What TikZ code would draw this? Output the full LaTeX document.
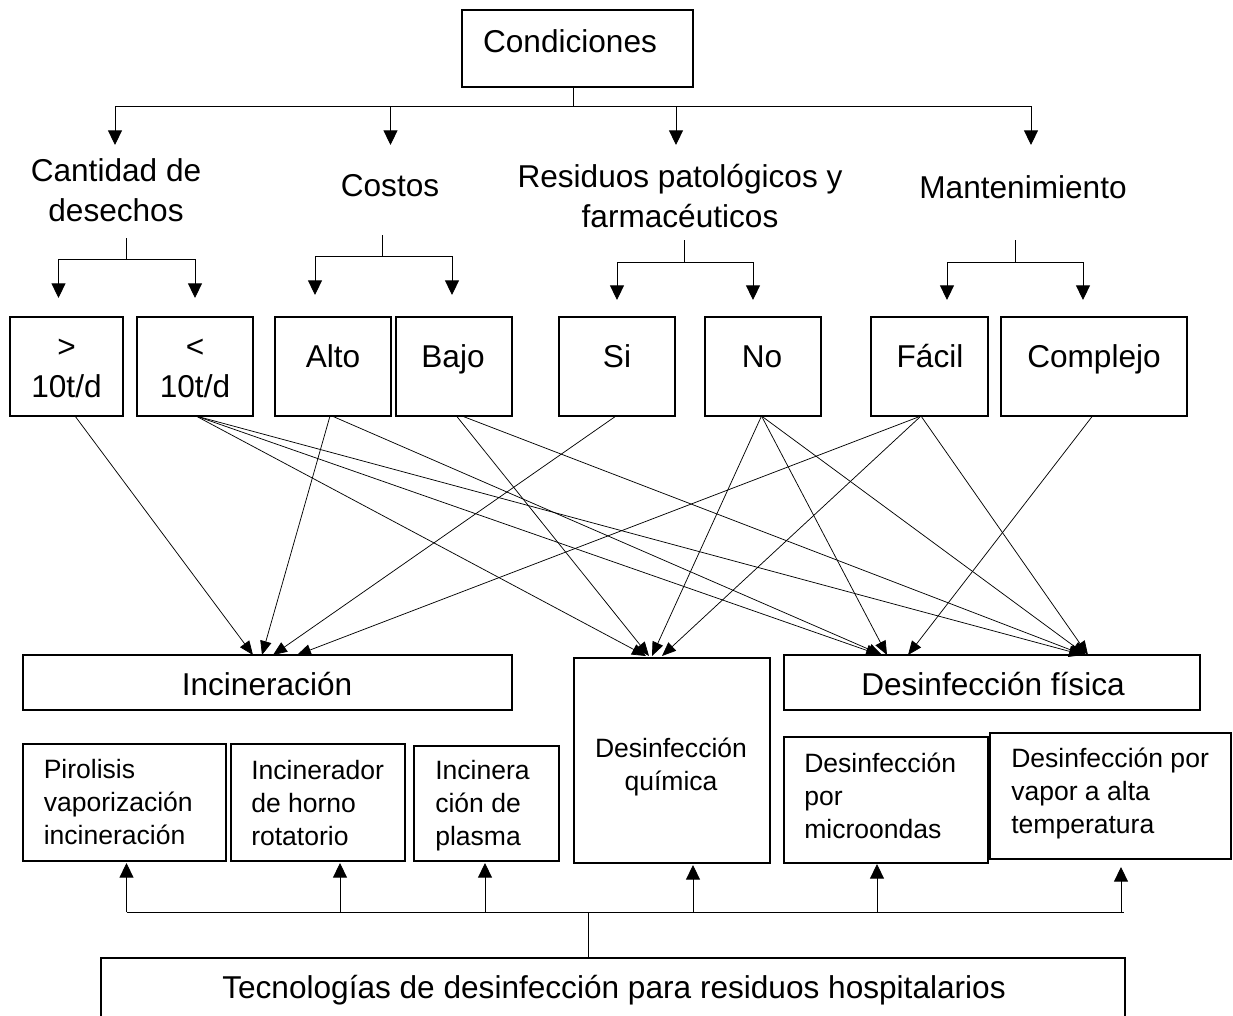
\documentclass[tikz,border=0pt]{standalone}
\usepackage{fontspec}
\setmainfont{Liberation Sans}
\usetikzlibrary{arrows.meta}

% rectangle node given by its corners (in px-like units)
\newcommand\boxat[5]{%
  \node[box, anchor=north west,
        minimum width={(#4-#2)*0.75pt},
        minimum height={(#5-#3)*0.75pt}] (#1) at (#2,#3) {};}

\begin{document}
\begin{tikzpicture}[x=0.75pt,y=-0.75pt,
  box/.style={draw, line width=0.9pt, inner sep=0pt, outer sep=0pt},
  big/.style={font=\fontsize{23.7}{29.6}\selectfont, inner sep=0pt, align=center},
  small/.style={font=\fontsize{19.9}{24.4}\selectfont, inner sep=0pt, align=left},
  plain/.style={line width=0.7pt},
  link/.style={line width=0.7pt, -{Triangle[length=11pt,width=10.5pt]}},
  cross/.style={line width=0.55pt, -{Triangle[length=10.5pt,width=8.5pt]}}]

\useasboundingbox (0,0) rectangle (1233,1015);
\clip (0,0) rectangle (1233,1015);

% multi-line texts are placed by the baseline of their last line

% ---------- root ----------
\boxat{cond}{462}{10}{693}{87}
\node[big, anchor=base] (condt) at (570,52) {Condiciones};

\coordinate (hub) at (573,106);
\draw[plain] (573,0 |- cond.south) -- (hub);
\draw[plain] (115,106) -- (1031,106);
\coordinate (a1) at (115,145);
\coordinate (a2) at (390.5,145);
\coordinate (a3) at (676,145);
\coordinate (a4) at (1031,145);
\draw[link] (115,106) -- (a1);
\draw[link] (390.5,106) -- (a2);
\draw[link] (676,106) -- (a3);
\draw[link] (1031,106) -- (a4);

% ---------- criteria ----------
\node[big, anchor=base] (cant) at (116,221) {Cantidad de\\desechos};
\node[big, anchor=base] (cost) at (390,196) {Costos};
\node[big, anchor=base] (resi) at (680,227) {Residuos patológicos y\\farmacéuticos};
\node[big, anchor=base] (mant) at (1023,198) {Mantenimiento};

% ---------- options ----------
\boxat{gt}{10}{317}{123}{416}
\boxat{lt}{137}{317}{253}{416}
\boxat{alto}{275}{317}{391}{416}
\boxat{bajo}{396}{317}{512}{416}
\boxat{si}{559}{317}{675}{416}
\boxat{no}{705}{317}{821}{416}
\boxat{facil}{871}{317}{988}{416}
\boxat{compl}{1001}{317}{1187}{416}

\node[big, anchor=base] (gtt) at (66.5,397) {>\\10t/d};
\node[big, anchor=base] (ltt) at (195,397) {<\\10t/d};
\node[big, anchor=base] (altot) at (333,367) {Alto};
\node[big, anchor=base] (bajot) at (453,367) {Bajo};
\node[big, anchor=base] (sit) at (617,367) {Si};
\node[big, anchor=base] (not) at (762,367) {No};
\node[big, anchor=base] (facilt) at (930,367) {Fácil};
\node[big, anchor=base] (complt) at (1094,367) {Complejo};

% splits under each criterion
\draw[plain] (126.5,238) -- (126.5,259);
\draw[plain] (58.5,259) -- (195,259);
\draw[link] (58.5,259) -- (58.5,298);
\draw[link] (195,259) -- (195,298);

\draw[plain] (382.5,235) -- (382.5,256);
\draw[plain] (315,256) -- (452,256);
\draw[link] (315,256) -- (315,295);
\draw[link] (452,256) -- (452,295);

\draw[plain] (684,240) -- (684,262);
\draw[plain] (617,262) -- (753,262);
\draw[link] (617,262) -- (617,300);
\draw[link] (753,262) -- (753,300);

\draw[plain] (1015,240) -- (1015,262);
\draw[plain] (947,262) -- (1083,262);
\draw[link] (947,262) -- (947,300);
\draw[link] (1083,262) -- (1083,300);

% ---------- technology groups ----------
\boxat{inc}{23}{655}{512}{710}
\node[big, anchor=base] (inct) at (267,695) {Incineración};
\boxat{quim}{574}{658}{770}{863}
\node[small, align=center, anchor=base] (quimt) at (671,790) {Desinfección\\química};
\boxat{fis}{784}{655}{1200}{710}
\node[big, anchor=base] (fist) at (993,695) {Desinfección física};

% ---------- relations ----------
\draw[cross] (75,0 |- gt.south) -- (253,0 |- inc.north);
\draw[cross] (330,0 |- alto.south) -- (262,0 |- inc.north);
\draw[cross] (616,0 |- si.south) -- (273,0 |- inc.north);
\draw[cross] (921,0 |- facil.south) -- (297,0 |- inc.north);

\draw[cross] (196,0 |- lt.south) -- (646,656);
\draw[cross] (456.5,0 |- bajo.south) -- (649,656);
\draw[cross] (761.5,0 |- no.south) -- (652,656);
\draw[cross] (921,0 |- facil.south) -- (662,656);

\draw[cross] (196,0 |- lt.south) -- (880,0 |- fis.north);
\draw[cross] (332,0 |- alto.south) -- (882,0 |- fis.north);
\draw[cross] (761.5,0 |- no.south) -- (887,0 |- fis.north);
\draw[cross] (1092.5,0 |- compl.south) -- (908,0 |- fis.north);

\draw[cross] (196,0 |- lt.south) -- (1083,0 |- fis.north);
\draw[cross] (462,0 |- bajo.south) -- (1084,0 |- fis.north);
\draw[cross] (761.5,0 |- no.south) -- (1086,0 |- fis.north);
\draw[cross] (921,0 |- facil.south) -- (1088,0 |- fis.north);

% ---------- specific technologies ----------
\boxat{pir}{23}{744}{226}{861}
\node[small, anchor=base west] (pirt) at (43.5,844) {Pirolisis\\vaporización\\incineración};
\boxat{hor}{231}{744}{405}{861}
\node[small, anchor=base west] (hort) at (251,845) {Incinerador\\de horno\\rotatorio};
\boxat{pla}{414}{746}{559}{861}
\node[small, anchor=base west] (plat) at (435,845) {Incinera\\ción de\\plasma};
\boxat{mic}{784}{737}{988}{863}
\node[small, anchor=base west] (mict) at (804,838) {Desinfección\\por\\microondas};
\boxat{vap}{990}{733}{1231}{859}
\node[small, anchor=base west] (vapt) at (1011,833) {Desinfección por\\vapor a alta\\temperatura};

% ---------- root of technologies ----------
\boxat{tech}{101}{958}{1125}{1040}
\node[big, anchor=base] (techt) at (614,998) {Tecnologías de desinfección para residuos hospitalarios};

\coordinate (bus) at (588,912);
\draw[plain] (588,0 |- tech.north) -- (bus);
\draw[plain] (126.5,912) -- (1124,912);
\coordinate (u1) at (126.5,863);
\coordinate (u2) at (340,863);
\coordinate (u3) at (485,863);
\coordinate (u4) at (693,865);
\coordinate (u5) at (877,864);
\coordinate (u6) at (1121,867);
\draw[link] (126.5,912) -- (u1);
\draw[link] (340,912) -- (u2);
\draw[link] (485,912) -- (u3);
\draw[link] (693,912) -- (u4);
\draw[link] (877,912) -- (u5);
\draw[link] (1121,912) -- (u6);

\end{tikzpicture}
\end{document}
